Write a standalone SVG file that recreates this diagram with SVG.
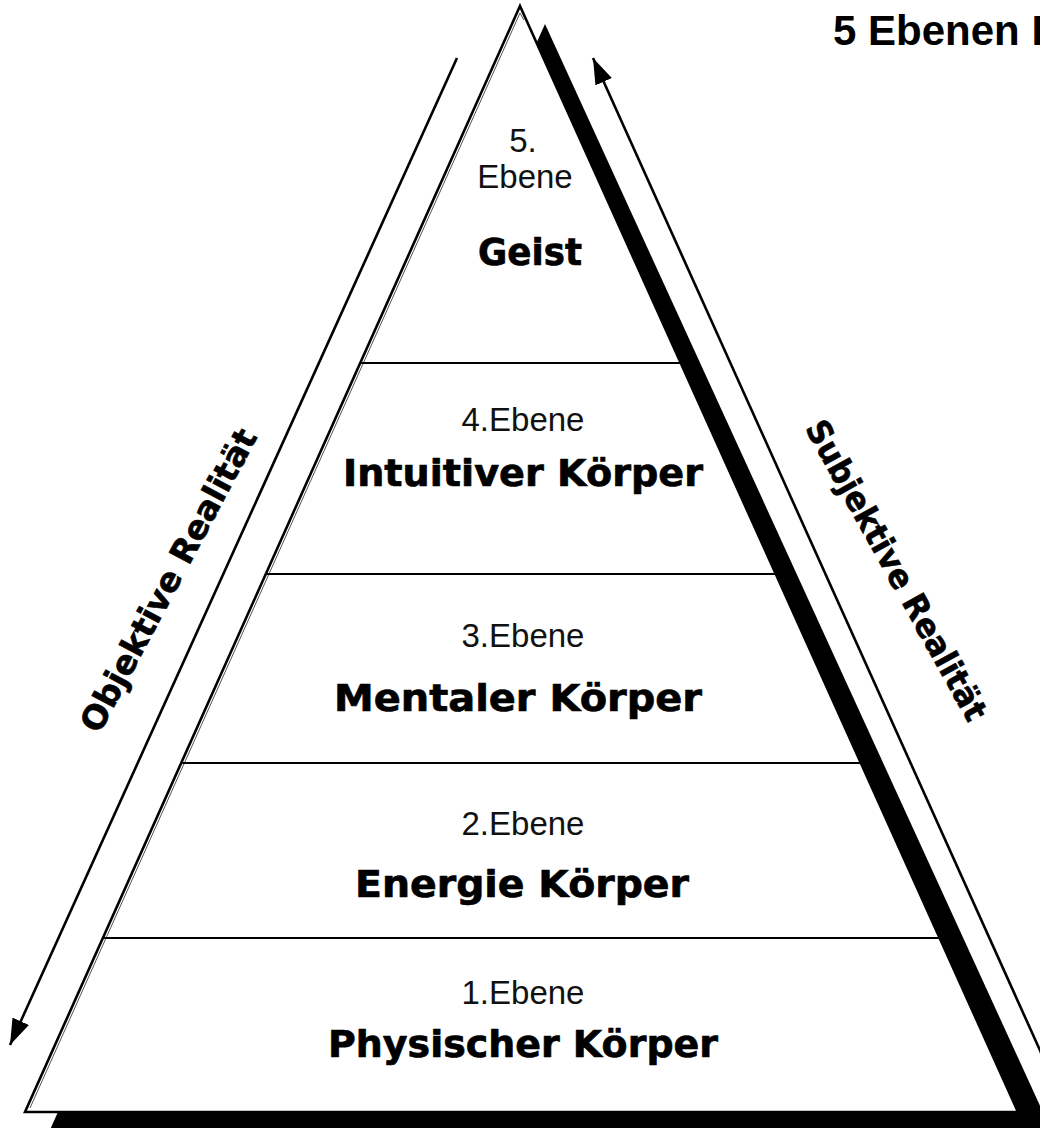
<svg xmlns="http://www.w3.org/2000/svg" width="1040" height="1128" viewBox="0 0 1040 1128">
  <style>
    .lvl { font-family: "Liberation Sans", Arial, sans-serif; font-size: 33px; fill: #111; text-anchor: middle; }
    .name { font-family: "DejaVu Sans", "Liberation Sans", sans-serif; font-weight: bold; font-size: 38px; fill: #000; text-anchor: middle; stroke: #000; stroke-width: 0.7; stroke-linejoin: round; }
    .side { font-family: "DejaVu Sans", "Liberation Sans", sans-serif; font-weight: bold; font-size: 33px; fill: #000; text-anchor: middle; stroke: #000; stroke-width: 0.6; stroke-linejoin: round; }
    .title { font-family: "Liberation Sans", Arial, sans-serif; font-weight: bold; font-size: 42px; fill: #000; }
    .sep { stroke: #000; stroke-width: 2.2; }
    .arrow { stroke: #000; stroke-width: 2.6; fill: none; }
  </style>
  <defs>
    <marker id="ah" viewBox="0 0 26 18" refX="26" refY="9" markerWidth="26" markerHeight="18" markerUnits="userSpaceOnUse" orient="auto">
      <path d="M0,0 L26,9 L0,18 z" fill="#000"/>
    </marker>
  </defs>
  <rect width="1040" height="1128" fill="#fff"/>

  <text class="title" x="833" y="45">5 Ebenen I</text>

  <g id="pyramid">
    <polygon points="545,24 1052,1132 49,1132" fill="#000"/>
    <polygon points="520,6 1018,1112 25,1112" fill="#fff" stroke="#000" stroke-width="2.6" stroke-linejoin="miter"/>
    <polyline points="30,1108 520,13 524,20" fill="none" stroke="#555" stroke-width="1"/>
    <line class="sep" x1="361" y1="363" x2="681" y2="363"/>
    <line class="sep" x1="266" y1="574" x2="776" y2="574"/>
    <line class="sep" x1="181" y1="763" x2="861" y2="763"/>
    <line class="sep" x1="103" y1="938" x2="940" y2="938"/>
  </g>

  <g id="level5">
    <text class="lvl" x="523" y="152">5.</text>
    <text class="lvl" x="525" y="188">Ebene</text>
    <text class="name" x="530" y="265" textLength="104" lengthAdjust="spacingAndGlyphs">Geist</text>
  </g>
  <g id="level4">
    <text class="lvl" x="523" y="431">4.Ebene</text>
    <text class="name" x="523" y="486" textLength="360" lengthAdjust="spacingAndGlyphs">Intuitiver Körper</text>
  </g>
  <g id="level3">
    <text class="lvl" x="523" y="647">3.Ebene</text>
    <text class="name" x="518" y="711" textLength="368" lengthAdjust="spacingAndGlyphs">Mentaler Körper</text>
  </g>
  <g id="level2">
    <text class="lvl" x="523" y="835">2.Ebene</text>
    <text class="name" x="522" y="897" textLength="334" lengthAdjust="spacingAndGlyphs">Energie Körper</text>
  </g>
  <g id="level1">
    <text class="lvl" x="523" y="1004">1.Ebene</text>
    <text class="name" x="523" y="1057" textLength="390" lengthAdjust="spacingAndGlyphs">Physischer Körper</text>
  </g>

  <g id="connectors">
    <line class="arrow" x1="457" y1="58" x2="10" y2="1045" marker-end="url(#ah)"/>
    <line class="arrow" x1="1052" y1="1077" x2="593" y2="58" marker-end="url(#ah)"/>
  </g>

  <g id="labels">
    <text class="side" transform="translate(168,580) rotate(-62)" x="0" y="12" textLength="338" lengthAdjust="spacingAndGlyphs">Objektive Realität</text>
    <text class="side" transform="translate(897,570) rotate(61)" x="0" y="12" textLength="338" lengthAdjust="spacingAndGlyphs">Subjektive Realität</text>
  </g>
</svg>
